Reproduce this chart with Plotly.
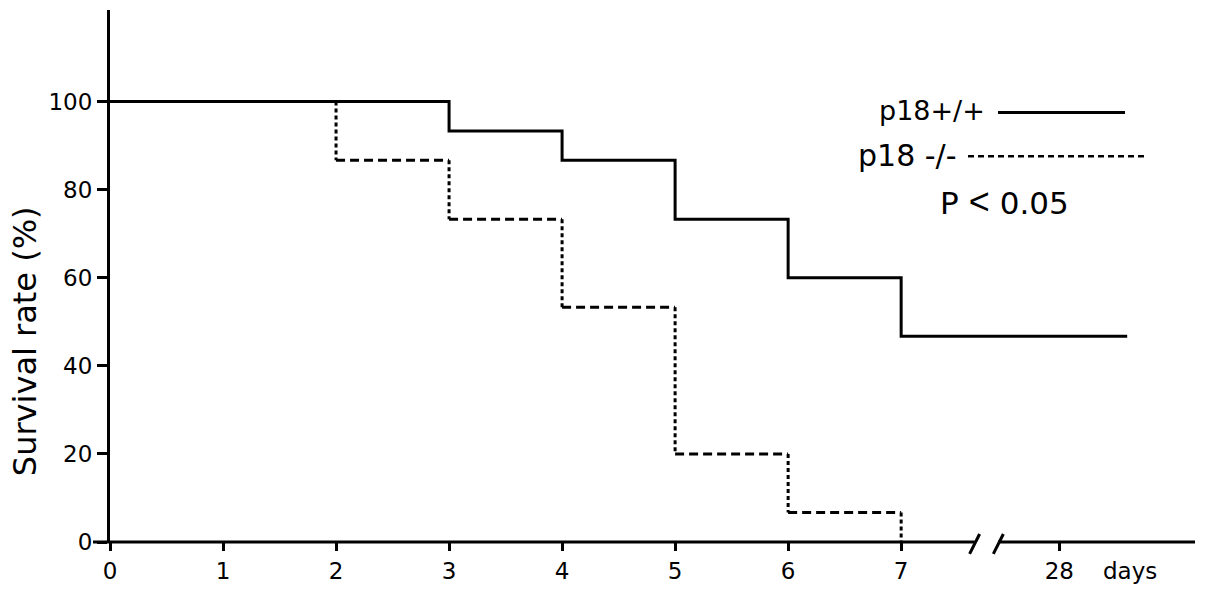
import plotly.graph_objects as go

# ── Data ───────────────────────────────────────────────────────────────────────
# x positions on the drawn axis: days 0-7 are linear, 28 sits after the break
tick_pos = [0, 1, 2, 3, 4, 5, 6, 7, 8.4]
tick_text = ["0", "1", "2", "3", "4", "5", "6", "7", "28"]

wt_days = [0, 3, 4, 5, 6, 7]
wt_surv = [100, 93.3, 86.7, 73.3, 60, 46.7]
wt_end = 9.0          # follow-up end (past the 28-day tick)

ko_days = [0, 2, 3, 4, 5, 6, 7]
ko_surv = [100, 86.7, 73.3, 53.3, 20, 6.7, 0]

y_ticks = [0, 20, 40, 60, 80, 100]

# ── Style ──────────────────────────────────────────────────────────────────────
FONT = "DejaVu Sans, Liberation Sans, Arial, sans-serif"
INK = "#000000"
XMIN, XMAX = 0, 9.6
YMIN, YMAX = 0, 120.8
L, R, T, B = 110, 10, 10, 49
W, H = 1205, 594


def px_x(px):
    return (px - L) / (W - L - R)


def px_y(py):
    return (H - B - py) / (H - B - T)


def pos_x(pos):
    return (pos - XMIN) / (XMAX - XMIN)


fig = go.Figure()

# wild type: solid step line
fig.add_trace(go.Scatter(
    x=wt_days + [wt_end], y=wt_surv + [wt_surv[-1]],
    mode="lines", line=dict(color=INK, width=3, shape="hv"),
    showlegend=False, hoverinfo="skip",
))

# knockout: dashed horizontals, dotted verticals
hx, hy, vx, vy = [], [], [], []
for i in range(len(ko_days) - 1):
    hx += [ko_days[i], ko_days[i + 1], None]
    hy += [ko_surv[i], ko_surv[i], None]
    vx += [ko_days[i + 1], ko_days[i + 1], None]
    vy += [ko_surv[i], ko_surv[i + 1], None]

fig.add_trace(go.Scatter(
    x=hx, y=hy, mode="lines",
    line=dict(color=INK, width=3, dash="9px,5px"),
    showlegend=False, hoverinfo="skip",
))
fig.add_trace(go.Scatter(
    x=vx, y=vy, mode="lines",
    line=dict(color=INK, width=3, dash="4px,3px"),
    showlegend=False, hoverinfo="skip",
))

# x axis line with break
brk1, brk2 = 7.65, 7.86
shapes = [
    dict(type="line", xref="paper", yref="paper", x0=px_x(93), x1=pos_x(brk1),
         y0=0, y1=0, line=dict(color=INK, width=3)),
    dict(type="line", xref="paper", yref="paper", x0=pos_x(brk2), x1=1,
         y0=0, y1=0, line=dict(color=INK, width=3)),
]
for b in (brk1, brk2):
    shapes.append(dict(type="line", xref="paper", yref="paper",
                       x0=pos_x(b) - px_x(115), x1=pos_x(b) + px_x(115),
                       y0=px_y(557), y1=px_y(537), line=dict(color=INK, width=3)))

# legend samples
shapes.append(dict(type="line", xref="paper", yref="paper",
                   x0=px_x(998), x1=px_x(1125), y0=px_y(113), y1=px_y(113),
                   line=dict(color=INK, width=3)))
shapes.append(dict(type="line", xref="paper", yref="paper",
                   x0=px_x(968), x1=px_x(1147), y0=px_y(157), y1=px_y(157),
                   line=dict(color=INK, width=2.5, dash="6px,4px")))

annotations = [
    dict(text="p18+/+", x=px_x(987), y=px_y(111), xref="paper", yref="paper",
         xanchor="right", yanchor="middle", showarrow=False,
         font=dict(size=27, color=INK, family=FONT)),
    dict(text="p18 -/-", x=px_x(959), y=px_y(156), xref="paper", yref="paper",
         xanchor="right", yanchor="middle", showarrow=False,
         font=dict(size=30, color=INK, family=FONT)),
    dict(text="P<span style='font-family:Liberation Sans;font-size:36px'> &lt; </span>0.05",
         x=px_x(1004), y=px_y(203), xref="paper", yref="paper",
         xanchor="center", yanchor="middle", showarrow=False,
         font=dict(size=31, color=INK, family=FONT)),
    dict(text="Survival rate (%)", x=px_x(25), y=px_y(343), xref="paper", yref="paper",
         xanchor="center", yanchor="middle", textangle=-90, showarrow=False,
         font=dict(size=32, color=INK, family=FONT)),
    dict(text="days", x=px_x(1130), y=px_y(574), xref="paper", yref="paper",
         xanchor="center", yanchor="middle", showarrow=False,
         font=dict(size=23, color=INK, family=FONT)),
]

fig.update_layout(
    width=W, height=H,
    paper_bgcolor="white", plot_bgcolor="white",
    margin=dict(l=L, r=R, t=T, b=B),
    font=dict(family=FONT, color=INK, size=23),
    shapes=shapes, annotations=annotations,
    xaxis=dict(range=[XMIN, XMAX], showline=False, showgrid=False, zeroline=False,
               tickmode="array", tickvals=tick_pos, ticktext=tick_text,
               ticks="outside", ticklen=8, tickwidth=3, tickcolor=INK,
               tickfont=dict(size=23)),
    yaxis=dict(range=[YMIN, YMAX], showline=True, linecolor=INK, linewidth=3,
               showgrid=False, zeroline=False,
               tickmode="array", tickvals=y_ticks,
               ticks="outside", ticklen=10, tickwidth=3, tickcolor=INK,
               tickfont=dict(size=23)),
)

fig.write_html("out.html", config={"displayModeBar": False},
               post_script="document.body.style.margin='0px';")
